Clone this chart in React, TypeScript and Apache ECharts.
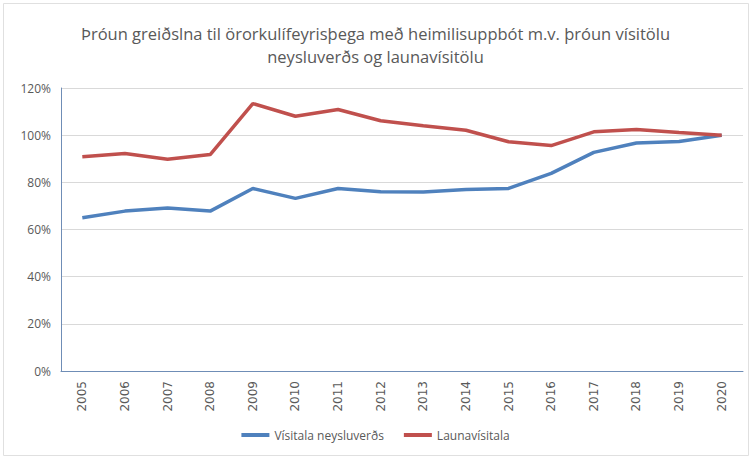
import React, { useEffect, useRef } from "react";
import * as echarts from "echarts";

const years = ["2005","2006","2007","2008","2009","2010","2011","2012","2013","2014","2015","2016","2017","2018","2019","2020"];
const visitalaNeysluverds = [65.0, 67.8, 69.1, 67.8, 77.4, 73.2, 77.4, 76.0, 75.9, 77.0, 77.4, 83.8, 92.7, 96.7, 97.3, 100];
const launavisitala = [90.8, 92.2, 89.8, 91.8, 113.4, 108.0, 110.9, 106.1, 104.0, 102.1, 97.2, 95.6, 101.4, 102.4, 101.1, 100];
const titleText = "Þróun greiðslna til örorkulífeyrisþega með heimilisuppbót m.v. þróun vísitölu\nneysluverðs og launavísitölu";
const seriesNames = ["Vísitala neysluverðs", "Launavísitala"];

export default function App() {
  const ref = useRef<HTMLDivElement>(null);
  useEffect(() => {
    const chart = echarts.init(ref.current!, null, { renderer: "svg" });
    chart.setOption({
      animation: false,
      backgroundColor: "#ffffff",
      textStyle: { fontFamily: "Open Sans" },
      title: {
        text: titleText,
        left: "center",
        top: 17,
        textStyle: { fontFamily: "Open Sans", fontSize: 16.5, fontWeight: "normal", color: "#595959", lineHeight: 23 },
      },
      graphic: [
        { type: "rect", shape: { x: 3.5, y: 3.5, width: 745, height: 452 }, style: { fill: "none", stroke: "#e0e0e0", lineWidth: 1 }, silent: true },
      ],
      legend: {
        bottom: 10,
        left: "center",
        icon: "rect",
        itemWidth: 28,
        itemHeight: 4,
        itemGap: 20,
        textStyle: { fontFamily: "Open Sans", fontSize: 12, color: "#595959" },
        data: seriesNames,
      },
      grid: { left: 61, right: 8, top: 88, bottom: 85 },
      xAxis: {
        type: "category",
        data: years,
        boundaryGap: true,
        axisLine: { lineStyle: { color: "#6F8DB6", width: 1 } },
        axisTick: { show: false },
        axisLabel: { rotate: 90, color: "#595959", fontSize: 12, margin: 10, fontFamily: "DejaVu Sans" },
      },
      yAxis: {
        type: "value",
        min: 0,
        max: 120,
        interval: 20,
        axisLine: { show: true, lineStyle: { color: "#6F8DB6", width: 1 } },
        axisTick: { show: false },
        axisLabel: { formatter: "{value}%", color: "#595959", fontSize: 12, margin: 10 },
        splitLine: { lineStyle: { color: "#d9d9d9", width: 1 } },
      },
      series: [
        {
          name: seriesNames[0],
          type: "line",
          data: visitalaNeysluverds,
          showSymbol: false,
          symbol: "none",
          lineStyle: { color: "#4F81BD", width: 3.5 },
          itemStyle: { color: "#4F81BD" },
        },
        {
          name: seriesNames[1],
          type: "line",
          data: launavisitala,
          showSymbol: false,
          symbol: "none",
          lineStyle: { color: "#C0504D", width: 3.5 },
          itemStyle: { color: "#C0504D" },
        },
      ],
    });
    return () => chart.dispose();
  }, []);
  return <div ref={ref} style={{ position: "absolute", left: 0, top: 0, width: 751, height: 456 }} />;
}
